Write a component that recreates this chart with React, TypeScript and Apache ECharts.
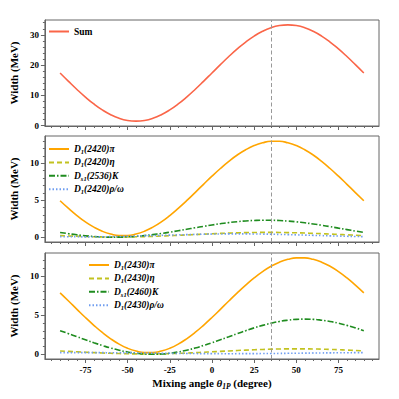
import React, { useEffect, useRef } from "react";
import * as echarts from "echarts";

const thetas = [-90, -85, -80, -75, -70, -65, -60, -55, -50, -45, -40, -35, -30, -25, -20, -15, -10, -5, 0, 5, 10, 15, 20, 25, 30, 35, 40, 45, 50, 55, 60, 65, 70, 75, 80, 85, 90];

const sumWidth = [17.4, 14.64, 11.96, 9.45, 7.18, 5.22, 3.63, 2.46, 1.74, 1.5, 1.74, 2.46, 3.63, 5.22, 7.18, 9.45, 11.96, 14.64, 17.4, 20.16, 22.84, 25.35, 27.62, 29.58, 31.17, 32.34, 33.06, 33.3, 33.06, 32.34, 31.17, 29.58, 27.62, 25.35, 22.84, 20.16, 17.4];

const d2420pi = [4.94, 3.9, 2.93, 2.07, 1.36, 0.8, 0.42, 0.22, 0.22, 0.42, 0.8, 1.36, 2.07, 2.93, 3.9, 4.94, 6.04, 7.16, 8.26, 9.3, 10.27, 11.13, 11.84, 12.4, 12.78, 12.98, 12.98, 12.78, 12.4, 11.84, 11.13, 10.27, 9.3, 8.26, 7.16, 6.04, 4.94];
const d2420eta = [0.214, 0.167, 0.125, 0.089, 0.061, 0.042, 0.032, 0.031, 0.039, 0.057, 0.083, 0.117, 0.158, 0.204, 0.255, 0.308, 0.362, 0.415, 0.466, 0.513, 0.555, 0.591, 0.619, 0.638, 0.648, 0.649, 0.641, 0.623, 0.597, 0.563, 0.522, 0.476, 0.425, 0.372, 0.318, 0.265, 0.214];
const ds2536K = [0.646, 0.474, 0.323, 0.197, 0.099, 0.034, 0.003, 0.006, 0.045, 0.116, 0.22, 0.351, 0.507, 0.682, 0.872, 1.07, 1.27, 1.467, 1.654, 1.826, 1.977, 2.103, 2.201, 2.266, 2.297, 2.294, 2.255, 2.184, 2.08, 1.949, 1.793, 1.618, 1.428, 1.23, 1.03, 0.833, 0.646];
const d2420rho = [0.077, 0.062, 0.053, 0.05, 0.053, 0.062, 0.077, 0.097, 0.121, 0.15, 0.182, 0.215, 0.25, 0.285, 0.318, 0.35, 0.379, 0.403, 0.423, 0.438, 0.447, 0.45, 0.447, 0.438, 0.423, 0.403, 0.379, 0.35, 0.318, 0.285, 0.25, 0.215, 0.182, 0.15, 0.121, 0.097, 0.077];

const d2430pi = [7.85, 6.81, 5.75, 4.7, 3.71, 2.79, 1.98, 1.3, 0.77, 0.41, 0.22, 0.22, 0.41, 0.77, 1.3, 1.98, 2.79, 3.71, 4.7, 5.75, 6.81, 7.85, 8.84, 9.76, 10.57, 11.25, 11.78, 12.14, 12.33, 12.33, 12.14, 11.78, 11.25, 10.57, 9.76, 8.84, 7.85];
const d2430eta = [0.431, 0.375, 0.319, 0.264, 0.213, 0.166, 0.126, 0.094, 0.07, 0.055, 0.05, 0.055, 0.07, 0.094, 0.126, 0.166, 0.213, 0.264, 0.319, 0.375, 0.431, 0.486, 0.538, 0.584, 0.624, 0.656, 0.68, 0.695, 0.7, 0.695, 0.68, 0.656, 0.624, 0.584, 0.538, 0.486, 0.431];
const ds2460K = [3.02, 2.64, 2.25, 1.86, 1.48, 1.13, 0.8, 0.53, 0.3, 0.14, 0.03, 0.0, 0.03, 0.14, 0.3, 0.53, 0.8, 1.13, 1.48, 1.86, 2.25, 2.64, 3.02, 3.38, 3.7, 3.97, 4.2, 4.36, 4.47, 4.5, 4.47, 4.36, 4.2, 3.97, 3.7, 3.38, 3.02];
const d2430rho = [0.216, 0.219, 0.22, 0.219, 0.216, 0.211, 0.204, 0.195, 0.185, 0.174, 0.162, 0.15, 0.138, 0.126, 0.115, 0.105, 0.096, 0.089, 0.084, 0.081, 0.08, 0.081, 0.084, 0.089, 0.096, 0.105, 0.115, 0.126, 0.138, 0.15, 0.162, 0.174, 0.185, 0.195, 0.204, 0.211, 0.216];

const xMajorTicks = [-75, -50, -25, 0, 25, 50, 75];
const xMinorTicks = [-95, -90, -85, -80, -75, -70, -65, -60, -55, -50, -45, -40, -35, -30, -25, -20, -15, -10, -5, 0, 5, 10, 15, 20, 25, 30, 35, 40, 45, 50, 55, 60, 65, 70, 75, 80, 85, 90, 95];
const y1MajorTicks = [0, 10, 20, 30];
const y1MinorTicks = [0, 2, 4, 6, 8, 10, 12, 14, 16, 18, 20, 22, 24, 26, 28, 30, 32, 34];
const y2MajorTicks = [0, 5, 10];
const y2MinorTicks = [0, 1, 2, 3, 4, 5, 6, 7, 8, 9, 10, 11, 12, 13];
const y3MinorTicks = [0, 1, 2, 3, 4, 5, 6, 7, 8, 9, 10, 11, 12];
const idealAngle = 35.3;

const FONT = "'Liberation Serif', 'Times New Roman', serif";
const FRAME = "#666";

export default function App() {
  const ref = useRef<HTMLDivElement>(null);
  useEffect(() => {
    if (!ref.current) return;
    const chart = echarts.init(ref.current, undefined, { renderer: "svg" });
    const pairs = (v: number[]) => thetas.map((t, i) => [t, v[i]]);

    const grids = [
      { left: 40, top: 20, width: 339, height: 106 },
      { left: 40, top: 136, width: 339, height: 106 },
      { left: 40, top: 253, width: 339, height: 106 },
    ].map((g) => ({ ...g, show: true, borderColor: FRAME, borderWidth: 1, backgroundColor: "transparent" }));

    const xAxes: any[] = [];
    for (let i = 0; i < 3; i++) {
      xAxes.push({
        type: "value", gridIndex: i, min: -99, max: 99, position: "bottom",
        axisLine: { show: true, onZero: false, lineStyle: { color: FRAME, width: 1 } },
        axisTick: { show: true, customValues: xMajorTicks, length: 4, lineStyle: { color: FRAME } },
        axisLabel: {
          show: i === 2, customValues: xMajorTicks, margin: 6,
          fontFamily: FONT, fontWeight: "bold", fontSize: 9, color: "#000",
        },
        splitLine: { show: false },
        ...(i === 2
          ? {
              name: "Mixing angle {it|θ}{sub|1P} (degree)",
              nameLocation: "middle",
              nameGap: 17,
              nameTextStyle: {
                fontFamily: FONT, fontWeight: "bold", fontSize: 11, color: "#000", lineHeight: 14,
                rich: {
                  it: { fontFamily: FONT, fontWeight: "bold", fontStyle: "italic", fontSize: 11, lineHeight: 14 },
                  sub: { fontFamily: FONT, fontWeight: "bold", fontStyle: "italic", fontSize: 7.5, lineHeight: 8, verticalAlign: "bottom" },
                },
              },
            }
          : {}),
      });
      xAxes.push({
        type: "value", gridIndex: i, min: -99, max: 99, position: "bottom",
        axisLine: { show: false, onZero: false },
        axisTick: { show: true, customValues: xMinorTicks, length: 2, lineStyle: { color: FRAME } },
        axisLabel: { show: false },
        splitLine: { show: false },
      });
    }

    const yRanges = [
      [-0.1, 34.9, y1MajorTicks, y1MinorTicks],
      [-0.65, 13.7, y2MajorTicks, y2MinorTicks],
      [-0.6, 12.95, y2MajorTicks, y3MinorTicks],
    ] as any[];
    const yAxes: any[] = [];
    for (let i = 0; i < 3; i++) {
      const [mn, mx, major, minor] = yRanges[i];
      yAxes.push({
        type: "value", gridIndex: i, min: mn, max: mx, position: "left",
        axisLine: { show: true, onZero: false, lineStyle: { color: FRAME, width: 1 } },
        axisTick: { show: true, customValues: major, length: 4, lineStyle: { color: FRAME } },
        axisLabel: {
          show: true, customValues: major, margin: 6,
          fontFamily: FONT, fontWeight: "bold", fontSize: 9, color: "#000",
        },
        splitLine: { show: false },
        name: "Width (MeV)",
        nameLocation: "middle",
        nameGap: 21,
        nameTextStyle: { fontFamily: FONT, fontWeight: "bold", fontSize: 11, color: "#000" },
      });
      yAxes.push({
        type: "value", gridIndex: i, min: mn, max: mx, position: "left",
        axisLine: { show: false, onZero: false },
        axisTick: { show: true, customValues: minor, length: 2, lineStyle: { color: FRAME } },
        axisLabel: { show: false },
        splitLine: { show: false },
      });
    }

    const markLine = {
      silent: true,
      symbol: ["none", "none"],
      label: { show: false },
      lineStyle: { color: "#999", type: [4, 2.5], width: 1 },
      data: [{ xAxis: idealAngle }],
    };

    const mk = (name: string, data: number[], panel: number, color: string, type: any, width: number, withMark = false) => ({
      name,
      type: "line",
      xAxisIndex: panel * 2,
      yAxisIndex: panel * 2,
      data: pairs(data),
      smooth: true,
      symbol: "none",
      showSymbol: false,
      lineStyle: { color, type, width },
      itemStyle: { color },
      ...(withMark ? { markLine } : {}),
      z: 3,
    });

    const ORANGE = "#ffa500";
    const OLIVE = "#c2c21f";
    const GREEN = "#1f8c1f";
    const BLUE = "#6f9df0";
    const DASH = [5, 3];
    const DASHDOT = [6, 2, 1.5, 2];
    const DOT = [1.5, 2];

    const series = [
      mk("Sum", sumWidth, 0, "#fa6548", "solid", 1.6, true),
      mk("D1(2420)π", d2420pi, 1, ORANGE, "solid", 1.6, true),
      mk("D1(2420)η", d2420eta, 1, OLIVE, DASH, 1.6),
      mk("Ds1(2536)K", ds2536K, 1, GREEN, DASHDOT, 1.6),
      mk("D1(2420)ρ/ω", d2420rho, 1, BLUE, DOT, 1.6),
      mk("D1(2430)π", d2430pi, 2, ORANGE, "solid", 1.6, true),
      mk("D1(2430)η", d2430eta, 2, OLIVE, DASH, 1.6),
      mk("Ds1(2460)K", ds2460K, 2, GREEN, DASHDOT, 1.6),
      mk("D1(2430)ρ/ω", d2430rho, 2, BLUE, DOT, 1.6),
    ];

    const fmt = (name: string) => {
      if (name === "Sum") return "{n|Sum}";
      const sub = name.startsWith("Ds1") ? "s1" : "1";
      const rest = name.slice(sub.length + 1);
      return `{m|D}{s|${sub}}{m|${rest}}`;
    };
    const rich = {
      n: { fontFamily: FONT, fontWeight: "bold", fontSize: 9.5, lineHeight: 12, color: "#000" },
      m: { fontFamily: FONT, fontWeight: "bold", fontStyle: "italic", fontSize: 9.5, lineHeight: 12, color: "#000" },
      s: { fontFamily: FONT, fontWeight: "bold", fontStyle: "italic", fontSize: 6.5, lineHeight: 7, verticalAlign: "bottom", color: "#000" },
    };
    const legendBase = {
      orient: "vertical",
      padding: 0,
      itemWidth: 20,
      itemHeight: 8,
      itemGap: 1.4,
      formatter: fmt,
      itemStyle: { opacity: 0 },
      textStyle: { rich, lineHeight: 12 },
      selectedMode: false,
    };

    chart.setOption({
      animation: false,
      backgroundColor: "#fff",
      grid: grids,
      xAxis: xAxes,
      yAxis: yAxes,
      legend: [
        { ...legendBase, left: 48, top: 25.5, data: ["Sum"] },
        { ...legendBase, left: 48, top: 143, data: ["D1(2420)π", "D1(2420)η", "Ds1(2536)K", "D1(2420)ρ/ω"] },
        { ...legendBase, left: 88, top: 259, data: ["D1(2430)π", "D1(2430)η", "Ds1(2460)K", "D1(2430)ρ/ω"] },
      ],
      series,
    });
    return () => chart.dispose();
  }, []);

  return (
    <div
      ref={ref}
      style={{ position: "fixed", left: 0, top: 0, width: 399, height: 399, background: "#fff" }}
    />
  );
}
